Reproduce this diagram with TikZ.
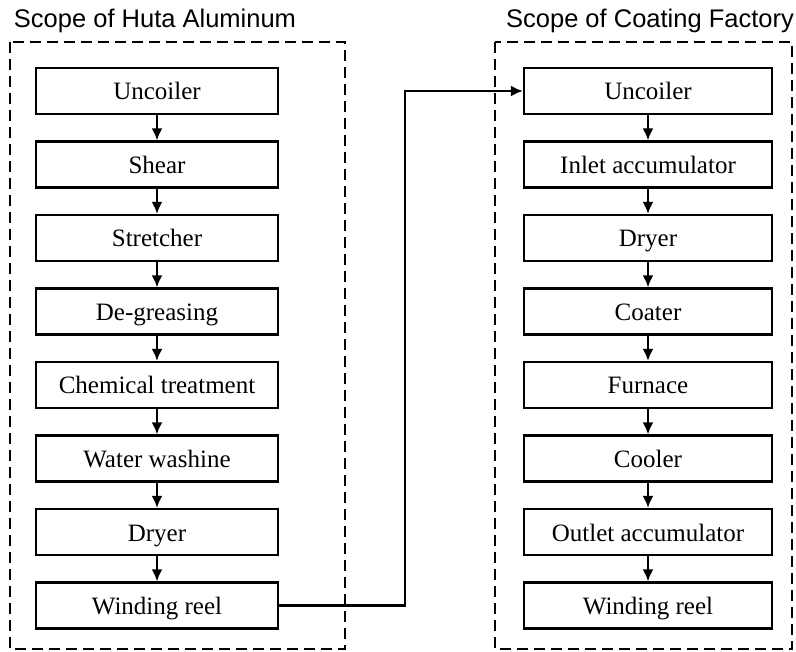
\documentclass[tikz,border=0pt]{standalone}
\usepackage{fontspec}
\setmainfont{Liberation Serif}
\setsansfont{Liberation Sans}
\usetikzlibrary{arrows.meta}
\usetikzlibrary{positioning}

\begin{document}
\begin{tikzpicture}[x=1pt, y=-1pt, node distance=25.3pt,
    stepbox/.style={draw, line width=2.2pt, minimum width=242pt, minimum height=46pt, inner sep=0pt, text height=18pt, text depth=0pt, font=\fontsize{25}{28}\selectfont},
    scopebox/.style={line width=2.4pt, dash pattern=on 11pt off 6pt},
    scopetitle/.style={font=\sffamily\fontsize{25.5}{28}\selectfont},
    flow/.style={line width=2.2pt, -{Latex[length=12pt, width=11pt]}}]
    \useasboundingbox (0, 0) rectangle (796, 652);

    \draw [scopebox] (10, 42) rectangle (345, 649);
    \draw [scopebox] (495, 42) rectangle (792, 649);
    \node [scopetitle] (hutaTitle) at (155, 21) {Scope of Huta Aluminum};
    \node [scopetitle] (coatTitle) at (650, 21) {Scope of Coating Factory};

    \node [stepbox] (hUncoiler) at (157, 91) {Uncoiler};
    \node [stepbox, below=of hUncoiler] (hShear) {Shear};
    \node [stepbox, below=of hShear] (hStretcher) {Stretcher};
    \node [stepbox, below=of hStretcher] (hDegrease) {De-greasing};
    \node [stepbox, below=of hDegrease] (hChemical) {Chemical treatment};
    \node [stepbox, below=of hChemical] (hWashing) {Water washine};
    \node [stepbox, below=of hWashing] (hDryer) {Dryer};
    \node [stepbox, below=of hDryer] (hWinding) {Winding reel};

    \node [stepbox, minimum width=248pt] (cUncoiler) at (648, 91) {Uncoiler};
    \node [stepbox, minimum width=248pt, below=of cUncoiler] (cInlet) {Inlet accumulator};
    \node [stepbox, minimum width=248pt, below=of cInlet] (cDryer) {Dryer};
    \node [stepbox, minimum width=248pt, below=of cDryer] (cCoater) {Coater};
    \node [stepbox, minimum width=248pt, below=of cCoater] (cFurnace) {Furnace};
    \node [stepbox, minimum width=248pt, below=of cFurnace] (cCooler) {Cooler};
    \node [stepbox, minimum width=248pt, below=of cCooler] (cOutlet) {Outlet accumulator};
    \node [stepbox, minimum width=248pt, below=of cOutlet] (cWinding) {Winding reel};

    \draw [flow] (hUncoiler) -- (hShear);
    \draw [flow] (hShear) -- (hStretcher);
    \draw [flow] (hStretcher) -- (hDegrease);
    \draw [flow] (hDegrease) -- (hChemical);
    \draw [flow] (hChemical) -- (hWashing);
    \draw [flow] (hWashing) -- (hDryer);
    \draw [flow] (hDryer) -- (hWinding);

    \draw [flow] (cUncoiler) -- (cInlet);
    \draw [flow] (cInlet) -- (cDryer);
    \draw [flow] (cDryer) -- (cCoater);
    \draw [flow] (cCoater) -- (cFurnace);
    \draw [flow] (cFurnace) -- (cCooler);
    \draw [flow] (cCooler) -- (cOutlet);
    \draw [flow] (cOutlet) -- (cWinding);

    \draw [flow] (hWinding.east) -- ++(126, 0) |- (cUncoiler.west);
\end{tikzpicture}
\end{document}
